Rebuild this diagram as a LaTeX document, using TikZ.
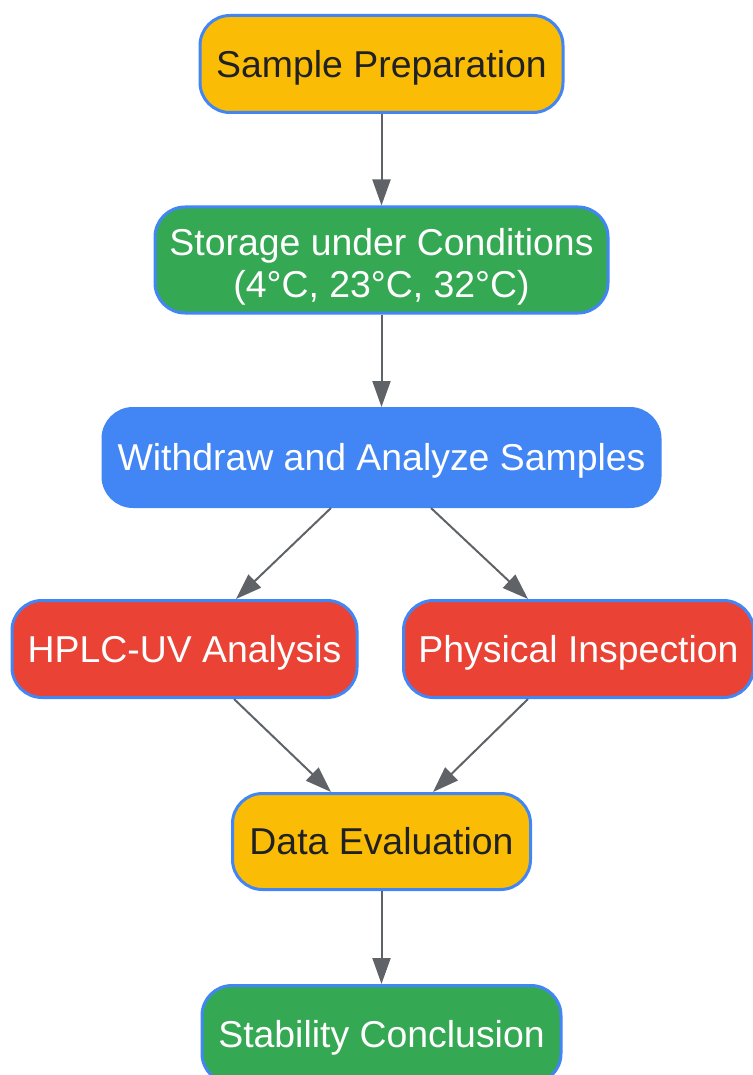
\documentclass[tikz,border=0pt]{standalone}
\usepackage{fontspec}
\setmainfont{Liberation Sans}
\usetikzlibrary{arrows.meta}
\definecolor{gyellow}{HTML}{FBBC05}
\definecolor{ggreen}{HTML}{34A853}
\definecolor{gblue}{HTML}{4285F4}
\definecolor{gred}{HTML}{EA4335}
\definecolor{garrow}{HTML}{5F6368}
\definecolor{gtext}{HTML}{202124}
\tikzset{
  box/.style={draw=gblue, line width=3pt, rounded corners=30pt, inner sep=0pt, align=center,
    font=\fontsize{37.4}{42}\selectfont, text height=26.8pt, text depth=0pt},
  ybox/.style={box, fill=gyellow, text=gtext},
  gbox/.style={box, fill=ggreen, text=white},
  bbox/.style={box, fill=gblue, text=white},
  rbox/.style={box, fill=gred, text=white},
  conn/.style={draw=garrow, line width=2pt, -{Triangle[length=26pt,width=18pt]}}
}
\begin{document}
\begin{tikzpicture}[x=1pt,y=-1pt]
\useasboundingbox (0,0) rectangle (752,1075);
\node[ybox, minimum width=363pt, minimum height=97pt] (sp) at (381.5,64) {Sample Preparation};
\node[gbox, minimum width=453pt, minimum height=106pt, text height=74.8pt] (st) at (381.5,260) {Storage under Conditions\\(4°C, 23°C, 32°C)};
\node[bbox, minimum width=557pt, minimum height=98pt] (wa) at (381.5,457.5) {Withdraw and Analyze Samples};
\node[rbox, minimum width=345pt, minimum height=97pt] (hp) at (184.5,649) {HPLC-UV Analysis};
\node[rbox, minimum width=350pt, minimum height=97pt] (pi) at (578.5,649) {Physical Inspection};
\node[ybox, minimum width=298pt, minimum height=96pt] (de) at (381.5,841.5) {Data Evaluation};
\node[gbox, minimum width=359pt, minimum height=98pt] (sc) at (381.5,1034.5) {Stability Conclusion};
\draw[conn] (sp.south) -- (st.north);
\draw[conn] (st.south) -- (wa.north);
\draw[conn] ([xshift=-50.5pt]wa.south) -- ([xshift=51.5pt]hp.north);
\draw[conn] ([xshift=49.5pt]wa.south) -- ([xshift=-50.5pt]pi.north);
\draw[conn] ([xshift=49.5pt]hp.south) -- ([xshift=-50.5pt]de.north);
\draw[conn] ([xshift=-50.5pt]pi.south) -- ([xshift=51.5pt]de.north);
\draw[conn] (de.south) -- (sc.north);
\end{tikzpicture}
\end{document}
